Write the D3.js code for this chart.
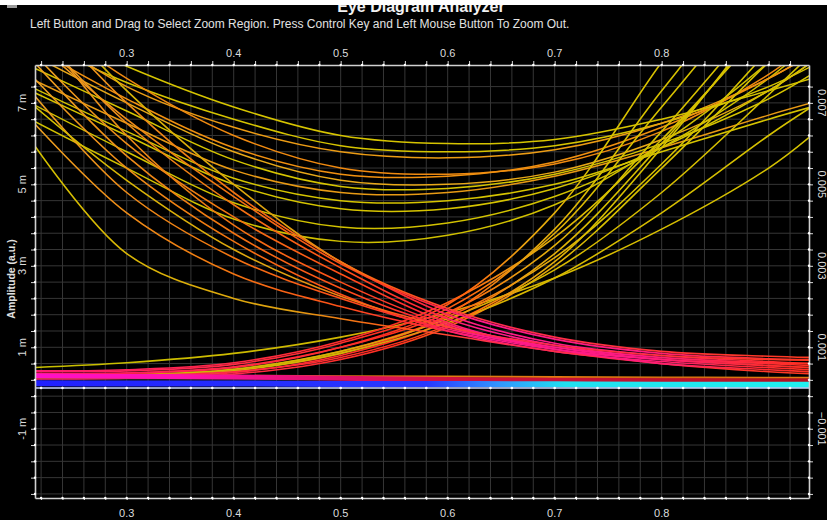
<!DOCTYPE html>
<html>
<head>
<meta charset="utf-8">
<script src="https://cdn.jsdelivr.net/npm/d3@7"></script>
<style>
  html, body { margin: 0; padding: 0; background: #000; }
  svg { display: block; font-family: "Liberation Sans", Arial, sans-serif; }
</style>
</head>
<body>
<svg id="chart" width="827" height="520"></svg>
<script>
// ---------------------------------------------------------------
// Eye diagram traces. Every trace is read at the same time positions
// (fraction of the bit period); amplitudes are in milli a.u.
// ---------------------------------------------------------------
const sampleX = [0.21, 0.30, 0.40, 0.50, 0.60, 0.70, 0.80, 0.90, 0.94];

// "1 -> 1" traces (upper U shaped curves)
const onesTraces = [
  [8.6, 7.5, 6.6, 5.95, 5.8, 5.95, 6.5, 7.4, 7.9],
  [8.9, 7.4, 6.4, 5.8, 5.65, 5.85, 6.5, 7.6, 8.2],
  [9.3, 7.6, 6.2, 5.4, 5.25, 5.5, 6.3, 7.7, 8.5],
  [8.2, 7.0, 5.8, 5.1, 5.0, 5.3, 6.1, 7.3, 8.0],
  [7.9, 6.8, 5.6, 4.95, 4.9, 5.25, 6.0, 7.1, 7.7],
  [7.6, 6.5, 5.35, 4.8, 4.8, 5.2, 5.9, 6.7, 7.0],
  [7.3, 6.2, 5.0, 4.4, 4.4, 4.9, 5.9, 7.3, 8.0],
  [7.0, 5.8, 4.55, 3.95, 4.05, 4.7, 5.9, 7.6, 8.5],
  [6.6, 5.4, 4.15, 3.6, 3.75, 4.5, 6.0, 8.0, 9.0],
  [8.4, 7.1, 5.9, 5.25, 5.2, 5.55, 6.4, 7.6, 8.2],
  [9.0, 7.9, 6.9, 6.2, 6.0, 6.1, 6.6, 7.3, 7.6],
  [7.4, 6.3, 5.15, 4.6, 4.6, 5.0, 5.8, 6.6, 6.9]
];

// "1 -> 0" traces (falling edges)
const fallTraces = [
  [8.3, 6.0, 4.2, 2.8, 1.6, 0.95, 0.7, 0.6, 0.55],
  [8.9, 6.5, 4.5, 2.95, 1.7, 1.05, 0.75, 0.62, 0.6],
  [9.5, 7.0, 4.8, 3.1, 1.8, 1.1, 0.8, 0.65, 0.6],
  [7.7, 5.4, 3.6, 2.3, 1.4, 0.9, 0.65, 0.5, 0.45],
  [6.1, 3.3, 2.2, 1.7, 1.3, 0.9, 0.6, 0.4, 0.35],
  [7.3, 4.8, 3.2, 2.2, 1.45, 1.0, 0.75, 0.62, 0.6],
  [8.6, 6.6, 4.7, 3.05, 1.9, 1.2, 0.85, 0.72, 0.7],
  [9.8, 7.3, 5.0, 3.1, 1.95, 1.25, 0.9, 0.78, 0.75],
  [9.1, 6.2, 4.0, 2.6, 1.55, 1.0, 0.7, 0.55, 0.5],
  [8.1, 5.7, 3.8, 2.45, 1.5, 0.95, 0.6, 0.45, 0.4],
  [7.0, 5.1, 3.4, 2.25, 1.5, 1.05, 0.8, 0.7, 0.68],
  [6.6, 4.3, 2.8, 2.0, 1.4, 0.95, 0.7, 0.55, 0.5]
];

// "0 -> 1" traces (rising edges)
const riseTraces = [
  [0.5, 0.62, 0.85, 1.25, 1.85, 2.7, 3.9, 5.4, 6.2],
  [0.3, 0.32, 0.45, 0.9, 1.75, 3.2, 5.5, 8.3, 9.5],
  [0.25, 0.27, 0.38, 0.8, 1.65, 3.3, 6.0, 9.0, 10.0],
  [0.3, 0.32, 0.45, 0.85, 1.8, 3.9, 7.3, 10.5, 11.5],
  [0.35, 0.37, 0.5, 1.0, 1.95, 3.8, 6.9, 10.0, 11.0],
  [0.22, 0.24, 0.34, 0.7, 1.5, 3.0, 5.4, 8.0, 9.0],
  [0.3, 0.32, 0.46, 0.9, 1.7, 2.9, 4.8, 7.2, 8.2],
  [0.4, 0.42, 0.58, 1.1, 2.05, 4.3, 8.0, 11.5, 12.5],
  [0.26, 0.28, 0.42, 0.85, 1.6, 2.7, 4.3, 6.2, 6.9],
  [0.35, 0.37, 0.52, 1.0, 1.85, 3.5, 6.3, 9.3, 10.3],
  [0.3, 0.31, 0.4, 0.75, 1.55, 3.1, 5.9, 9.2, 10.5],
  [0.42, 0.45, 0.62, 1.15, 2.1, 3.7, 6.1, 8.9, 9.8]
];

// "0 -> 0" traces (flat lines near the zero level)
const zeroTraces = [
  [0.30, 0.30, 0.30, 0.29, 0.28, 0.27, 0.26, 0.25, 0.25],
  [0.25, 0.25, 0.26, 0.25, 0.22, 0.22, 0.23, 0.22, 0.22],
  [0.35, 0.34, 0.30, 0.25, 0.22, 0.20, 0.20, 0.19, 0.18],
  [0.30, 0.29, 0.27, 0.24, 0.21, 0.19, 0.18, 0.17, 0.17],
  [0.12, 0.11, 0.11, 0.10, 0.10, 0.09, 0.08, 0.08, 0.08]
];
// densest trace, sitting right on the zero level
const baseTrace = [0, 0, 0, 0, 0, 0, 0, 0, 0];

// axis labels
const xTickLabels = [0.3, 0.4, 0.5, 0.6, 0.7, 0.8];
const yTickLabels = [-1, 1, 3, 5, 7];

// ---------------------------------------------------------------
// Layout and styles
// ---------------------------------------------------------------
const W = 827, H = 520;
const L = 35, R = 809, T = 65, B = 498;
const svg = d3.select("#chart");

const x = d3.scaleLinear().domain([0.2143, 0.9377]).range([L, R]);
const y = d3.scaleLinear().domain([-2.70, 7.93]).range([B, T]);

const xMinor = d3.range(0.22, 0.935, 0.02);
const yMinor = d3.range(-2.6, 7.6, 0.4);

// colour ramps along the time axis (density colouring of the eye)
const ramps = {
  fall:    [[0.21, "#eda020"], [0.38, "#f07a10"], [0.50, "#ff5018"], [0.57, "#ff2a34"], [0.63, "#ff1a8a"], [0.78, "#ff1a80"], [0.87, "#ff2a40"], [0.94, "#ff3020"]],
  fallY:   [[0.21, "#d4c200"], [0.45, "#e0a010"], [0.55, "#ff5a18"], [0.65, "#ff2a50"], [0.94, "#ff3a20"]],
  rise:    [[0.21, "#ff1a70"], [0.42, "#ff2a40"], [0.55, "#ff3020"], [0.62, "#ff6a10"], [0.67, "#e8a010"], [0.74, "#d8c000"], [0.94, "#d4c200"]],
  riseY:   [[0.21, "#c8c000"], [0.50, "#d0b800"], [0.58, "#e89010"], [0.66, "#d8b800"], [0.94, "#d4c200"]],
  magenta: [[0.21, "#ff10c8"], [0.35, "#ff10b0"], [0.45, "#e8107a"], [0.60, "#d01040"], [0.94, "#b01020"]],
  blue:    [[0.21, "#2020ff"], [0.58, "#2838ff"], [0.65, "#3098ff"], [0.71, "#20e0f0"], [0.94, "#20f0f0"]]
};

const onesColors = ["#d6c400", "#ec9c14", "#f08a10", "#e8a818", "#d6c400", "#e89a14",
                    "#d6c400", "#d2c200", "#d0c000", "#f09010", "#d6c400", "#d6c400"];
const fallColors = ["fall", "fall", "fall", "fall", "fallY", "fall",
                    "fall", "fallY", "fall", "fall", "fallY", "fall"];
const riseColors = ["riseY", "rise", "rise", "rise", "rise", "rise",
                    "riseY", "rise", "riseY", "rise", "rise", "rise"];
const zeroStyles = [
  { color: "#e07a10", width: 2 },
  { color: "#b84810", width: 2 },
  { color: "#ff2a1a", width: 2 },
  { color: "url(#ramp-magenta)", width: 5 },
  { color: "url(#ramp-blue)", width: 6 }
];

// ---------------------------------------------------------------
// Background, header strip and captions
// ---------------------------------------------------------------
svg.append("rect").attr("width", W).attr("height", H).attr("fill", "#000");

svg.append("text")
  .attr("x", 421).attr("y", 12)
  .attr("text-anchor", "middle")
  .attr("font-size", 16).attr("font-weight", "bold")
  .attr("fill", "#f2f2f2")
  .text("Eye Diagram Analyzer");

svg.append("rect").attr("x", 0).attr("y", 0).attr("width", W).attr("height", 5).attr("fill", "#fff");
svg.append("rect").attr("x", 7).attr("y", 5).attr("width", 10).attr("height", 3).attr("fill", "#9a9a9a");

svg.append("text")
  .attr("x", 30).attr("y", 28)
  .attr("font-size", 12)
  .attr("fill", "#e2e2e2")
  .text("Left Button and Drag to Select Zoom Region. Press Control Key and Left Mouse Button To Zoom Out.");

// ---------------------------------------------------------------
// Gradients
// ---------------------------------------------------------------
const defs = svg.append("defs");
Object.entries(ramps).forEach(([name, stops]) => {
  const g = defs.append("linearGradient")
    .attr("id", "ramp-" + name)
    .attr("gradientUnits", "userSpaceOnUse")
    .attr("x1", L).attr("x2", R).attr("y1", 0).attr("y2", 0);
  stops.forEach(([xv, c]) => {
    g.append("stop")
      .attr("offset", Math.max(0, Math.min(1, (x(xv) - L) / (R - L))))
      .attr("stop-color", c);
  });
});
defs.append("clipPath").attr("id", "plot-clip")
  .append("rect").attr("x", L).attr("y", T).attr("width", R - L).attr("height", B - T);

// ---------------------------------------------------------------
// Grid
// ---------------------------------------------------------------
const grid = svg.append("g");
grid.selectAll("line.v").data(xMinor).join("line")
  .attr("x1", d => x(d)).attr("x2", d => x(d))
  .attr("y1", T).attr("y2", B)
  .attr("stroke", "#363636").attr("stroke-width", 1);
grid.selectAll("line.h").data(yMinor).join("line")
  .attr("x1", L).attr("x2", R)
  .attr("y1", d => y(d)).attr("y2", d => y(d))
  .attr("stroke", "#363636").attr("stroke-width", 1);

// ---------------------------------------------------------------
// Traces
// ---------------------------------------------------------------
const line = d3.line()
  .x((d, i) => x(sampleX[i]))
  .y(d => y(d))
  .curve(d3.curveCatmullRom.alpha(0.5));

const plot = svg.append("g").attr("clip-path", "url(#plot-clip)");

plot.append("g").selectAll("path").data(onesTraces).join("path")
  .attr("d", line)
  .attr("fill", "none")
  .attr("stroke", (d, i) => onesColors[i])
  .attr("stroke-width", 1.5);

plot.append("g").selectAll("path").data(riseTraces).join("path")
  .attr("d", line)
  .attr("fill", "none")
  .attr("stroke", (d, i) => "url(#ramp-" + riseColors[i] + ")")
  .attr("stroke-width", 1.6);

plot.append("g").selectAll("path").data(fallTraces).join("path")
  .attr("d", line)
  .attr("fill", "none")
  .attr("stroke", (d, i) => "url(#ramp-" + fallColors[i] + ")")
  .attr("stroke-width", 1.6);

plot.append("g").selectAll("path").data(zeroTraces).join("path")
  .attr("d", line)
  .attr("fill", "none")
  .attr("stroke", (d, i) => zeroStyles[i].color)
  .attr("stroke-width", (d, i) => zeroStyles[i].width);

plot.append("path")
  .datum(baseTrace)
  .attr("d", line)
  .attr("fill", "none")
  .attr("stroke", "#c8d4ff")
  .attr("stroke-width", 1.3);
plot.append("g").selectAll("circle").data(xMinor).join("circle")
  .attr("cx", d => x(d)).attr("cy", y(0)).attr("r", 1.3).attr("fill", "#fff");

// ---------------------------------------------------------------
// Axes
// ---------------------------------------------------------------
function styleAxis(g) {
  g.select(".domain").attr("stroke", "#d0d0d0").attr("stroke-width", 1.6);
  g.selectAll(".tick line").attr("stroke", "#d8d8d8").attr("stroke-width", 1);
  g.selectAll(".tick text").remove();
}
svg.append("g").attr("transform", `translate(0,${T})`)
  .call(d3.axisTop(x).tickValues(xMinor).tickSize(4).tickSizeOuter(0)).call(styleAxis);
svg.append("g").attr("transform", `translate(0,${B})`)
  .call(d3.axisBottom(x).tickValues(xMinor).tickSize(2).tickSizeOuter(0)).call(styleAxis);
svg.append("g").attr("transform", `translate(${L},0)`)
  .call(d3.axisLeft(y).tickValues(yMinor).tickSize(4).tickSizeOuter(0)).call(styleAxis);
svg.append("g").attr("transform", `translate(${R},0)`)
  .call(d3.axisRight(y).tickValues(yMinor).tickSize(4).tickSizeOuter(0)).call(styleAxis);

// tick dots along the axis lines
const dots = svg.append("g").attr("fill", "#fff");
[T, B].forEach(yy => {
  dots.append("g").selectAll("circle").data(xMinor).join("circle")
    .attr("cx", d => x(d)).attr("cy", yy).attr("r", 1.2);
});
[L, R].forEach(xx => {
  dots.append("g").selectAll("circle").data(yMinor).join("circle")
    .attr("cx", xx).attr("cy", d => y(d)).attr("r", 1.2);
});

// tick labels
const labelColor = "#dcdcdc";
svg.append("g").selectAll("text").data(xTickLabels).join("text")
  .attr("x", d => x(d)).attr("y", 57)
  .attr("text-anchor", "middle").attr("font-size", 11).attr("fill", labelColor)
  .text(d => d3.format(".1f")(d));
svg.append("g").selectAll("text").data(xTickLabels).join("text")
  .attr("x", d => x(d)).attr("y", 517)
  .attr("text-anchor", "middle").attr("font-size", 11).attr("fill", labelColor)
  .text(d => d3.format(".1f")(d));

svg.append("g").selectAll("text").data(yTickLabels).join("text")
  .attr("transform", d => `translate(22,${y(d)}) rotate(-90)`)
  .attr("text-anchor", "middle").attr("dominant-baseline", "central")
  .attr("font-size", 11).attr("fill", labelColor)
  .text(d => d + " m");
svg.append("g").selectAll("text").data(yTickLabels).join("text")
  .attr("transform", d => `translate(822,${y(d)}) rotate(90)`)
  .attr("text-anchor", "middle").attr("dominant-baseline", "central")
  .attr("font-size", 11).attr("fill", labelColor)
  .text(d => d3.format(".3f")(d / 1000));

svg.append("text")
  .attr("transform", "translate(11,279) rotate(-90)")
  .attr("text-anchor", "middle").attr("dominant-baseline", "central")
  .attr("font-size", 10.5).attr("font-weight", "bold")
  .attr("fill", "#e0e0e0")
  .text("Amplitude (a.u.)");
</script>
</body>
</html>
